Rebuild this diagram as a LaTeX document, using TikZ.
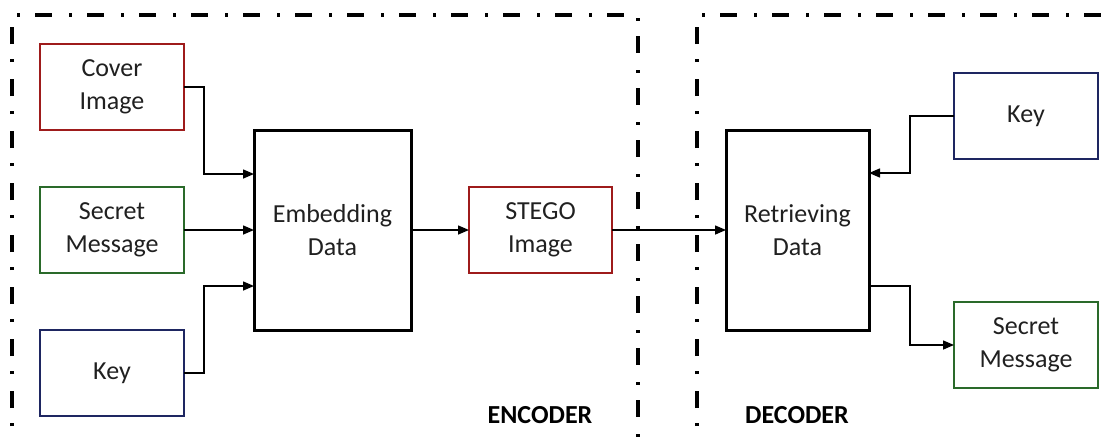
\documentclass[tikz,border=0pt]{standalone}
\usepackage{fontspec}
\setmainfont{Carlito}
\usetikzlibrary{arrows.meta,calc}
\definecolor{bred}{HTML}{9E1B1B}
\definecolor{bgreen}{HTML}{2A6A2A}
\definecolor{bnavy}{HTML}{1E2661}
\definecolor{txt}{HTML}{202020}
\begin{document}
\begin{tikzpicture}[x=1pt,y=-1pt,
  box/.style={draw,rectangle,minimum width=144pt,minimum height=86pt,inner sep=0pt,outer sep=0pt,line width=2.3pt,align=center,text=txt,font=\fontsize{26}{33}\selectfont},
  bigbox/.style={box,line width=3pt,draw=black},
  arr/.style={line width=1.5pt,-{Triangle[length=11pt,width=9pt]}},
  frame/.style={line width=3.2pt,dash pattern=on 17pt off 17pt on 3pt off 15pt},
  lab/.style={font=\fontsize{26}{30}\selectfont\bfseries,text=black}]
\useasboundingbox (0,0) rectangle (1115,442);
\clip (0,0) rectangle (1115,442);
% frames
\draw[frame] (12,460) -- (12,15) -- (638,15) -- (638,460);
\draw[frame] (697,460) -- (697,15) -- (1130,15);
% nodes
\node[box,draw=bred] (cover) at (112,87) {Cover\\Image};
\node[box,draw=bgreen] (secL) at (112,230) {Secret\\Message};
\node[box,draw=bnavy] (keyL) at (112,373) {Key};
\node[bigbox,minimum width=157pt,minimum height=200pt] (embed) at (332.5,230) {Embedding\\Data};
\node[box,draw=bred,minimum width=143pt] (stego) at (540.5,230) {STEGO\\Image};
\node[bigbox,minimum width=143pt,minimum height=200pt] (retr) at (797.5,230) {Retrieving\\Data};
\node[box,draw=bnavy] (keyR) at (1026,116) {Key};
\node[box,draw=bgreen] (secR) at (1026,345) {Secret\\Message};
\node[lab] (enc) at (540,415) {ENCODER};
\node[lab] (dec) at (797,415) {DECODER};
% connectors
\draw[arr] (cover.east) -- ++(20,0) |- ($(embed.west)+(0,-56)$);
\draw[arr] (secL.east) -- (embed.west);
\draw[arr] (keyL.east) -- ++(20,0) |- ($(embed.west)+(0,56)$);
\draw[arr] (embed.east) -- (stego.west);
\draw[arr] (stego.east) -- (retr.west);
\draw[arr] (keyR.west) -- ++(-44,0) |- ($(retr.east)+(0,-57)$);
\draw[arr] ($(retr.east)+(0,56)$) -- ++(41,0) |- (secR.west);
\end{tikzpicture}
\end{document}
